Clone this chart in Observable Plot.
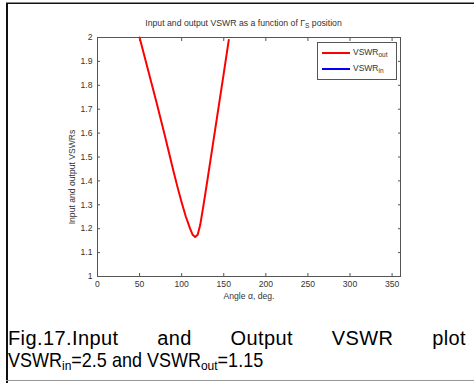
<!DOCTYPE html>
<html>
<head>
<meta charset="utf-8">
<script src="https://cdn.jsdelivr.net/npm/d3@7"></script>
<script src="https://cdn.jsdelivr.net/npm/@observablehq/plot@0.6"></script>
<style>
  body { margin: 0; background: #fff; }
  #wrap { position: relative; width: 474px; height: 383px; overflow: hidden; background: #fff;
          font-family: "Liberation Sans", Arial, Helvetica, sans-serif; }
  #chart { position: absolute; left: 0; top: 0; }
  #bTop1 { position: absolute; left: 6px; top: 2px; width: 468px; height: 1px; background: #888; }
  #bTop2 { position: absolute; left: 6px; top: 3px; width: 468px; height: 1px; background: #111; }
  #bLeft { position: absolute; left: 6px; top: 3px; width: 2px; height: 380px; background: #111; }
  #bBottom { position: absolute; left: 6px; top: 380px; width: 468px; height: 1px; background: #999; }
  #title { position: absolute; left: 92px; width: 303px; top: 18px; text-align: center;
           font-size: 8.7px; color: #333; white-space: nowrap; }
  #title sub { font-size: 6.5px; vertical-align: -2px; }
  #legend { position: absolute; left: 317px; top: 42px; width: 80px; height: 38px;
            border: 1px solid #555; background: #fff; box-sizing: border-box; }
  .lrow { position: absolute; left: 4px; height: 10px; font-size: 8.5px; color: #333; white-space: nowrap; }
  .lrow .sw { position: absolute; left: 0; top: 4px; width: 28px; height: 1.5px; }
  .lrow .lt { position: absolute; left: 31px; top: -1px; }
  .lrow sub { font-size: 6.5px; vertical-align: -2px; }
  .cap { position: absolute; left: 8px; width: 458px; line-height: 22px; color: #000; white-space: nowrap; }
  #cap1 { top: 327px; font-size: 20px; letter-spacing: 0.4px; text-align: justify; text-align-last: justify; white-space: normal; }
  #cap2 { top: 348px; font-size: 18px; transform: scale(1, 1.1); transform-origin: left top; }
  .cap sub { font-size: 12px; vertical-align: -3px; line-height: 0; }
</style>
</head>
<body>
<div id="wrap">
  <div id="chart"></div>
  <div id="bTop1"></div><div id="bTop2"></div><div id="bLeft"></div><div id="bBottom"></div>
  <div id="title"></div>
  <div id="legend"></div>
  <div id="cap1" class="cap"></div>
  <div id="cap2" class="cap"></div>
</div>
<script>
// ---- data ----
const angles  = [50, 60, 70, 80, 90, 95, 100, 105, 110, 113, 116, 119, 122, 126, 130, 140, 150, 156];
const vswrOut = [2.0, 1.865, 1.73, 1.59, 1.445, 1.375, 1.31, 1.25, 1.2, 1.175, 1.165, 1.175, 1.215, 1.3, 1.39, 1.62, 1.85, 1.99];
const xTicks = [0, 50, 100, 150, 200, 250, 300, 350];
const yTicks = [1, 1.1, 1.2, 1.3, 1.4, 1.5, 1.6, 1.7, 1.8, 1.9, 2];
const yTickLabels = ["1", "1.1", "1.2", "1.3", "1.4", "1.5", "1.6", "1.7", "1.8", "1.9", "2"];
const seriesNames = ["VSWR", "VSWR"];
const seriesSubs = ["out", "in"];
const seriesColors = ["#ff0000", "#0000ff"];
const titleMain = "Input and output VSWR as a function of Γ";
const titleSub = "S";
const titleEnd = " position";
const xLabel = ["Angle α, deg."];
const yLabel = ["Input and output VSWRs"];

const data = angles.map((a, i) => ({angle: a, vswr: vswrOut[i]}));

const chart = Plot.plot({
  width: 474,
  height: 310,
  marginLeft: 97,
  marginRight: 74,
  marginTop: 37,
  marginBottom: 34,
  style: {fontFamily: "Liberation Sans, Arial, Helvetica, sans-serif", fontSize: "8.6px", color: "#333", background: "transparent", overflow: "visible"},
  x: {domain: [0, 360]},
  y: {domain: [1, 2]},
  marks: [
    Plot.line(data, {x: "angle", y: "vswr", stroke: seriesColors[0], strokeWidth: 2}),
    Plot.frame({stroke: "#555"}),
    Plot.axisX(xTicks, {anchor: "bottom", tickSize: -3, tickPadding: 7, label: null, stroke: "#555", fill: "#333", tickFormat: d => String(d)}),
    Plot.axisX(xTicks, {anchor: "top", tickSize: -3, label: null, stroke: "#555", tickFormat: () => ""}),
    Plot.axisY(yTicks, {anchor: "left", tickSize: -3, tickPadding: 8, label: null, stroke: "#555", fill: "#333", tickFormat: (d, i) => yTickLabels[i]}),
    Plot.axisY(yTicks, {anchor: "right", tickSize: -3, label: null, stroke: "#555", tickFormat: () => ""}),
    Plot.text(xLabel, {text: d => d, frameAnchor: "bottom", dy: 22, fill: "#333"}),
    Plot.text(yLabel, {text: d => d, frameAnchor: "left", textAnchor: "middle", rotate: -90, dx: -25, dy: 20, fill: "#333"})
  ]
});
document.getElementById("chart").appendChild(chart);

// title
const t = document.getElementById("title");
t.append(titleMain);
const ts = document.createElement("sub"); ts.textContent = titleSub; t.append(ts);
t.append(titleEnd);

// legend
const lg = document.getElementById("legend");
seriesNames.forEach((n, i) => {
  const row = document.createElement("div");
  row.className = "lrow";
  row.style.top = (i === 0 ? 5 : 21) + "px";
  const sw = document.createElement("div"); sw.className = "sw"; sw.style.background = seriesColors[i];
  const lt = document.createElement("span"); lt.className = "lt";
  lt.append(n);
  const s = document.createElement("sub"); s.textContent = seriesSubs[i]; lt.append(s);
  row.append(sw, lt);
  lg.append(row);
});

// caption
document.getElementById("cap1").textContent = "Fig.17.Input and Output VSWR plot";
const c2 = document.getElementById("cap2");
c2.append("VSWR");
const s1 = document.createElement("sub"); s1.textContent = "in"; c2.append(s1);
c2.append("=2.5 and VSWR");
const s2 = document.createElement("sub"); s2.textContent = "out"; c2.append(s2);
c2.append("=1.15");
</script>
</body>
</html>
